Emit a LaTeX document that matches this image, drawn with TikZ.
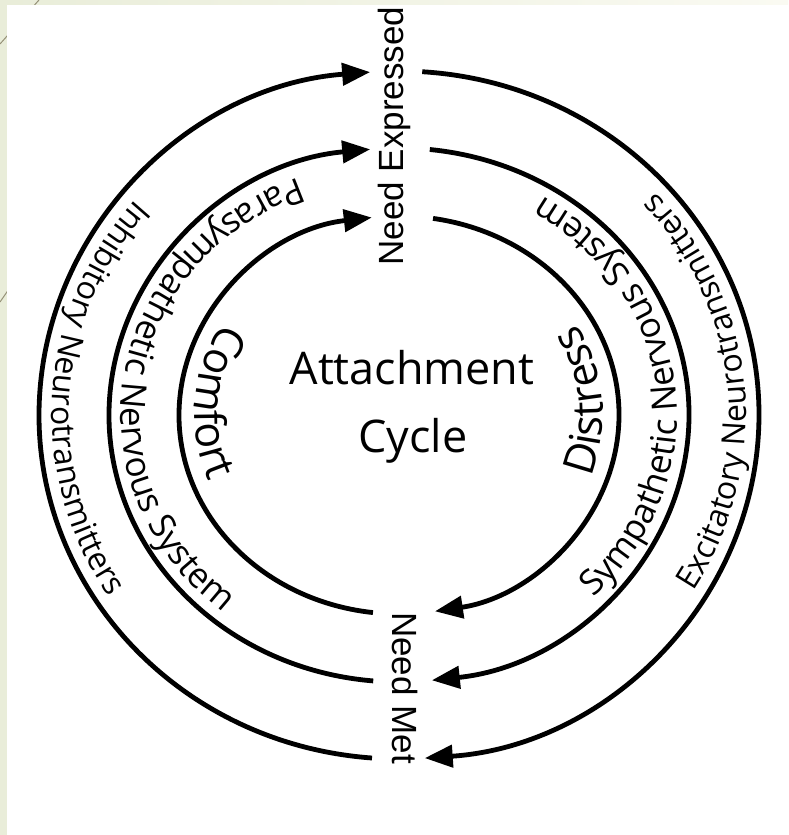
\documentclass[tikz,border=0pt]{standalone}
\usepackage{fontspec}
\newfontfamily\cycfont{Open Sans}
\newfontfamily\needfont{Liberation Sans}
\usepackage{xcolor}
\definecolor{colStrip}{RGB}{233,237,217}
\definecolor{colBand}{RGB}{250,250,242}
\definecolor{colDiag}{RGB}{150,146,120}
\usetikzlibrary{arrows.meta, decorations.text}

\tikzset{
  ring/.style={line width=4.8pt},
  ringarrow/.style={ring, -{Triangle[length=28pt, width=22pt]}},
  needlbl/.style={font=\needfont\fontsize{35}{40}\selectfont, inner sep=0pt},
  titlelbl/.style={font=\cycfont\fontsize{45}{54}\selectfont, inner sep=0pt},
}

% text set on the inner side of a ring: centre angle, x radius, y radius, size, text
\newcommand{\ringlabel}[5]{%
  \path[decorate, decoration={text along path, text align=center,
      text={|\cycfont\fontsize{#4}{#4}\selectfont|#5}}]
    (ctr) ++(#1-60:#2 and #3) arc[start angle=#1-60, end angle=#1+60, x radius=#2, y radius=#3];}

\begin{document}
\begin{tikzpicture}[x=1pt, y=1pt]
  \useasboundingbox (0,0) rectangle (788,835);
  % slide background
  \fill[colStrip] (0,0) rectangle (788,835);
  \shade[left color=colStrip, right color=colBand] (7,830) rectangle (788,835);
  \draw[colDiag, line width=1pt] (39,835) -- (0,791);
  \draw[colDiag, line width=1pt] (9,546) -- (0,533);
  \fill[white] (7,0) rectangle (788,830);

  \coordinate (ctr) at (399,420);

  % inner ring
  \draw[ringarrow] (ctr) ++(263.2:220 and 199) arc[start angle=263.2, end angle=97.1, x radius=220, y radius=199];
  \draw[ringarrow] (ctr) ++(81.1:220 and 199) arc[start angle=81.1, end angle=-80.6, x radius=220, y radius=199];
  % middle ring
  \draw[ringarrow] (ctr) ++(264.9:290 and 267) arc[start angle=264.9, end angle=95.7, x radius=290, y radius=267];
  \draw[ringarrow] (ctr) ++(83.9:290 and 267) arc[start angle=83.9, end angle=-83.5, x radius=290, y radius=267];
  % outer ring
  \draw[ringarrow] (ctr) ++(265.7:360 and 344) arc[start angle=265.7, end angle=94.6, x radius=360, y radius=344];
  \draw[ringarrow] (ctr) ++(86.3:360 and 344) arc[start angle=86.3, end angle=-85.9, x radius=360, y radius=344];

  % labels
  \node[needlbl, rotate=90, anchor=base] (needexp) at (403,699) {Need Expressed};
  \node[needlbl, rotate=-90, anchor=base] (needmet) at (392,147) {Need Met};
  \node[titlelbl, anchor=base] (title) at (412,450) {Attachment};
  \node[titlelbl, anchor=base] (cycle) at (413,382) {Cycle};

  \ringlabel{175.7}{204}{183}{43}{Comfort}
  \ringlabel{4.6}{204}{183}{43}{Distress}
  \ringlabel{171}{278}{255}{35}{Parasympathetic Nervous System}
  \ringlabel{6.5}{278}{255}{35}{Sympathetic Nervous System}
  \ringlabel{176.5}{347}{331}{32}{Inhibitory Neurotransmitters}
  \ringlabel{5}{347}{331}{32}{Excitatory Neurotransmitters}
\end{tikzpicture}
\end{document}
